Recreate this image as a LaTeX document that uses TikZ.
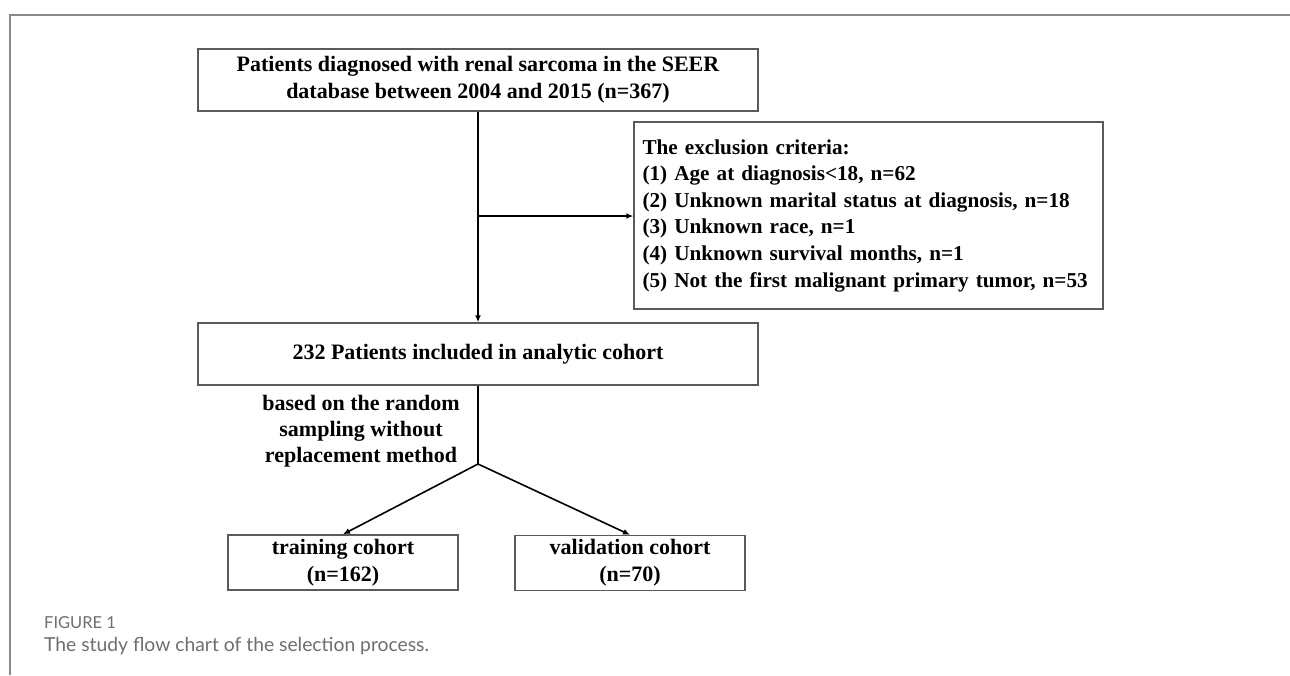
\documentclass[tikz,border=0pt]{standalone}
\usepackage{fontspec}
\setmainfont{Liberation Serif}
\newfontfamily\capfont{Lato}
\usetikzlibrary{arrows.meta,calc}
\definecolor{boxgray}{HTML}{5A5A5A}
\definecolor{framegray}{HTML}{8A8A8A}
\definecolor{capgray}{HTML}{6E6E6E}
\tikzset{
  flowbox/.style={draw=boxgray, line width=1.4pt, fill=white, inner sep=0pt,
    align=center, font=\bfseries\fontsize{22}{26.6}\selectfont},
  conn/.style={draw=black, line width=1.6pt},
  arr/.style={conn, -{Latex[length=7pt,width=6pt]}},
}
\begin{document}
\begin{tikzpicture}[x=1pt,y=-1pt]
\useasboundingbox (0,0) rectangle (1290,675);
\fill[white] (0,0) rectangle (1290,675);
% frame
\draw[framegray, line width=2pt] (1290,14.7) -- (9.5,14.7) -- (9.5,675);
% boxes
\node[flowbox, minimum width=560, minimum height=62] (top) at (478,80)
  {Patients diagnosed with renal sarcoma in the SEER\\database between 2004 and 2015 (n=367)};
\node[flowbox, font=\bfseries\fontsize{21.2}{26.6}\selectfont, minimum width=469, minimum height=187, text width=452, align=left] (excl) at (868.5,215.5)
  {The exclusion criteria:\\
   (1) Age at diagnosis<18, n=62\\
   (2) Unknown marital status at diagnosis, n=18\\
   (3) Unknown race, n=1\\
   (4) Unknown survival months, n=1\\
   (5) Not the first malignant primary tumor, n=53};
\node[flowbox, minimum width=560, minimum height=62] (mid) at (478,354)
  {232 Patients included in analytic cohort};
\node[flowbox, minimum width=230, minimum height=55] (train) at (343,562.5)
  {training cohort\\(n=162)};
\node[flowbox, minimum width=230, minimum height=55] (valid) at (630,563)
  {validation cohort\\(n=70)};
\node[align=center, font=\bfseries\fontsize{22}{26}\selectfont] (method) at (361,431)
  {based on the random\\sampling without\\replacement method};
% connectors
\coordinate (branch) at (478,216);
\coordinate (split) at (478,464);
\draw[arr] (top.south) -- (mid.north);
\draw[arr] (branch) -- (branch -| excl.west);
\draw[conn] (mid.south) -- (split);
\draw[arr] (split) -- (train.north);
\draw[arr] (split) -- (valid.north);
% caption
\node[anchor=west, inner sep=0pt, text=capgray, font=\capfont\fontsize{16.5}{18}\selectfont] (figlab) at (44,623) {FIGURE 1};
\node[anchor=west, inner sep=0pt, text=capgray, font=\capfont\fontsize{19.3}{22}\selectfont] (caption) at (44,646) {The study flow chart of the selection process.};
\end{tikzpicture}
\end{document}
